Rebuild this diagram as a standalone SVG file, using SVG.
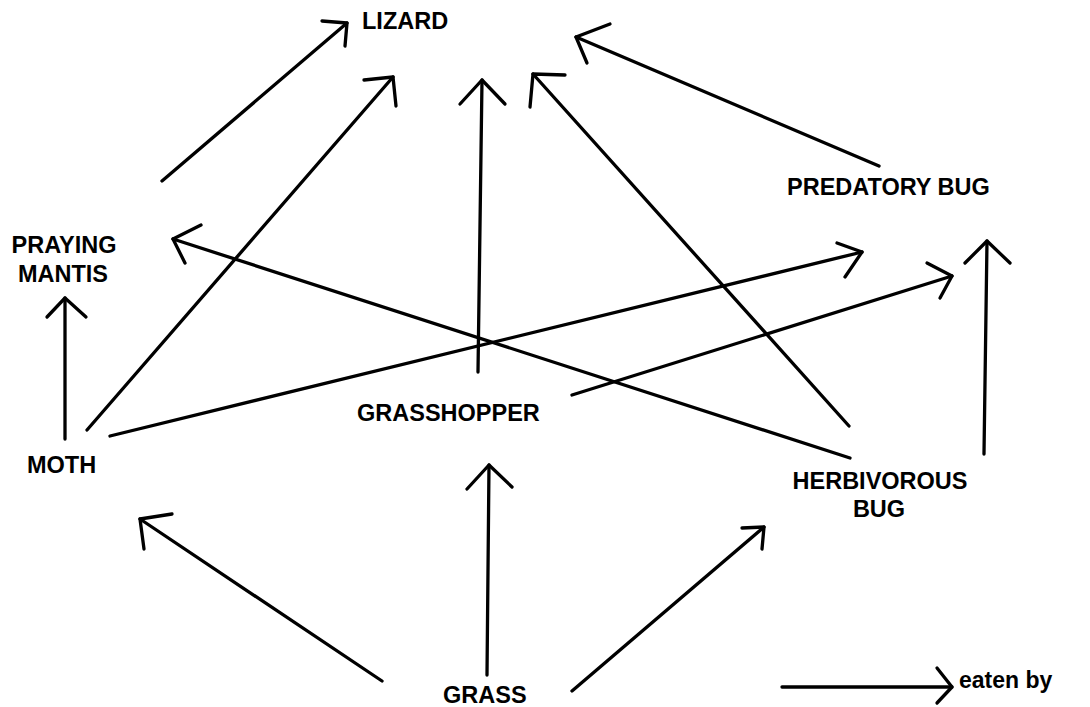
<svg xmlns="http://www.w3.org/2000/svg" width="1090" height="707" viewBox="0 0 1090 707">
  <style>
    .label { font-family: "Liberation Sans", Arial, sans-serif; font-size: 23.5px; font-weight: bold; fill: #000; }
    .legend { font-family: "Liberation Sans", Arial, sans-serif; font-size: 23px; font-weight: bold; fill: #000; }
    .edge line, .edge polyline { stroke: #000; stroke-width: 3.3; fill: none; stroke-linecap: round; stroke-linejoin: round; }
  </style>
  <rect width="1090" height="707" fill="#fff"/>

  <!-- food-web nodes -->
  <g id="lizard"><text class="label" x="362" y="29">LIZARD</text></g>
  <g id="predatory-bug"><text class="label" x="787" y="195">PREDATORY BUG</text></g>
  <g id="praying-mantis">
    <text class="label" x="64" y="253" text-anchor="middle">PRAYING</text>
    <text class="label" x="63" y="282" text-anchor="middle">MANTIS</text>
  </g>
  <g id="moth"><text class="label" x="27" y="473">MOTH</text></g>
  <g id="grasshopper"><text class="label" x="357" y="421">GRASSHOPPER</text></g>
  <g id="herbivorous-bug">
    <text class="label" x="880" y="489" text-anchor="middle">HERBIVOROUS</text>
    <text class="label" x="879" y="517" text-anchor="middle">BUG</text>
  </g>
  <g id="grass"><text class="label" x="443" y="703">GRASS</text></g>

  <!-- "eaten by" connectors: straight shaft plus open chevron head -->
  <g id="connectors" class="edge">
    <g id="mantis-lizard"><line x1="162" y1="181" x2="347" y2="23"/><polyline points="322,21 347,23 345,46"/></g>
    <g id="moth-lizard"><line x1="87" y1="430" x2="393" y2="77"/><polyline points="364,80 393,77 396,106"/></g>
    <g id="grasshopper-lizard"><line x1="478" y1="372" x2="482" y2="80"/><polyline points="460,104 482,80 505,104"/></g>
    <g id="herbbug-lizard"><line x1="849" y1="426" x2="533" y2="74"/><polyline points="565,75 533,74 530,107"/></g>
    <g id="predbug-lizard"><line x1="879" y1="166" x2="576" y2="37"/><polyline points="610,24 576,37 587,63"/></g>
    <g id="moth-mantis"><line x1="65" y1="439" x2="65" y2="298"/><polyline points="47,317 65,298 86,317"/></g>
    <g id="herbbug-mantis"><line x1="850" y1="458" x2="173" y2="239"/><polyline points="201,225 173,239 185,263"/></g>
    <g id="moth-predbug"><line x1="110" y1="436" x2="862" y2="252"/><polyline points="837,243 862,252 845,277"/></g>
    <g id="grasshopper-predbug"><line x1="572" y1="395" x2="952" y2="276"/><polyline points="927,263 952,276 940,298"/></g>
    <g id="herbbug-predbug"><line x1="984" y1="454" x2="987" y2="241"/><polyline points="965,263 987,241 1010,263"/></g>
    <g id="grass-moth"><line x1="382" y1="681" x2="140" y2="519"/><polyline points="172,514 140,519 144,549"/></g>
    <g id="grass-grasshopper"><line x1="487" y1="675" x2="489" y2="465"/><polyline points="467,489 489,465 512,487"/></g>
    <g id="grass-herbbug"><line x1="572" y1="691" x2="764" y2="527"/><polyline points="742,528 764,527 762,549"/></g>
  </g>

  <!-- key -->
  <g id="legend">
    <g class="edge"><line x1="782" y1="687" x2="952" y2="687"/><polyline points="937,668 952,687 937,703"/></g>
    <text class="legend" x="959" y="688">eaten by</text>
  </g>
</svg>
